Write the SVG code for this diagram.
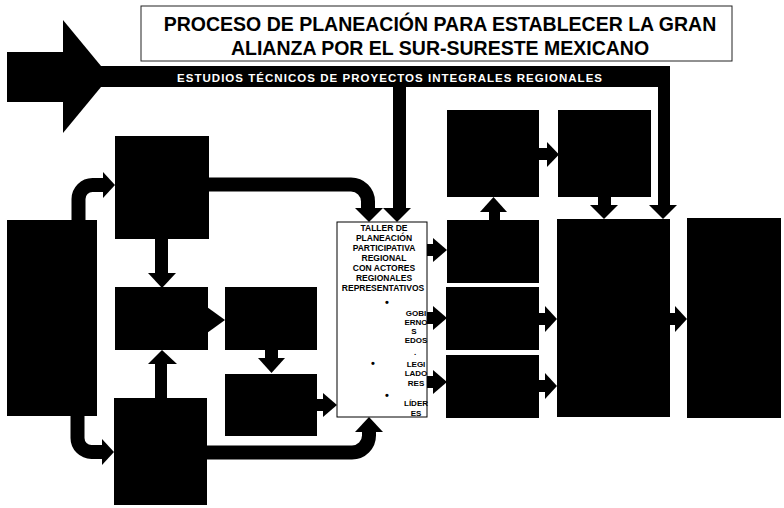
<svg xmlns="http://www.w3.org/2000/svg" width="784" height="508" viewBox="0 0 784 508">
<style>
.blk{fill:#000}
.pipe{fill:none;stroke:#000;stroke-width:14}
.t{font-family:"Liberation Sans",Arial,sans-serif;font-weight:bold}
.tl{font-size:8.5px;text-anchor:middle;fill:#000}
.ts{font-size:8px;text-anchor:middle;fill:#000}
.bu{font-size:11px;text-anchor:middle;fill:#000}
</style>
<rect width="784" height="508" fill="#fff"/>
<g id="title">
<rect x="141" y="6" width="591" height="55" fill="#fff" stroke="#222" stroke-width="1"/>
<text class="t" x="440" y="31" font-size="19.5" text-anchor="middle">PROCESO DE PLANEACIÓN PARA ESTABLECER LA GRAN</text>
<text class="t" x="440" y="55" font-size="19.5" text-anchor="middle">ALIANZA POR EL SUR-SURESTE MEXICANO</text>
</g>
<g id="connectors">
<rect class="blk" x="7" y="52" width="57" height="50"/>
<polygon class="blk" points="63,20 101,66 101,87 63,133"/>
<rect class="blk" x="100" y="66" width="570" height="21"/>
<rect class="blk" x="658" y="66" width="12" height="140"/>
<polygon class="blk" points="649,205 677,205 663,219"/>
<rect class="blk" x="393" y="86" width="13" height="123"/>
<polygon class="blk" points="383,208 411,208 397,222"/>
<text class="t" x="177" y="82" font-size="11.5" fill="#fff" textLength="425" lengthAdjust="spacing">ESTUDIOS TÉCNICOS DE PROYECTOS INTEGRALES REGIONALES</text>
<path class="pipe" stroke-width="13" d="M78.5,221 V199 A14,14 0 0 1 92.5,185 H104"/>
<polygon class="blk" points="103,172 103,198 115,185"/>
<path class="pipe" d="M77.5,415 V438 A14,14 0 0 0 91.5,452 H103"/>
<polygon class="blk" points="102,439 102,465 114,452"/>
<path class="pipe" d="M208,184.5 H351 A17,17 0 0 1 368,201.5 V209"/>
<polygon class="blk" points="355,208 383,208 369,222"/>
<path class="pipe" d="M207,452.5 H352 A17,17 0 0 0 369,435.5 V431"/>
<polygon class="blk" points="355,432 383,432 369,417"/>
<rect class="blk" x="155" y="238" width="13" height="36"/>
<polygon class="blk" points="148,273 176,273 162,288"/>
<rect class="blk" x="155" y="363" width="12" height="36"/>
<polygon class="blk" points="148,364 177,364 162,350"/>
<polygon class="blk" points="207,307 225,320 207,333"/>
<rect class="blk" x="265" y="349" width="13" height="10"/>
<polygon class="blk" points="258,358 285,358 271.5,373"/>
<rect class="blk" x="316" y="399" width="8" height="12"/>
<polygon class="blk" points="323,393 323,417 337,405"/>
<rect class="blk" x="426" y="244" width="8" height="12"/>
<polygon class="blk" points="433,238 433,262 447,250"/>
<rect class="blk" x="426" y="312" width="8" height="12"/>
<polygon class="blk" points="433,306 433,330 447,318"/>
<rect class="blk" x="426" y="376" width="8" height="12"/>
<polygon class="blk" points="433,370 433,394 447,382"/>
<rect class="blk" x="538" y="148" width="10" height="12"/>
<polygon class="blk" points="547,142 547,167 559,154.5"/>
<rect class="blk" x="489" y="211" width="11" height="10"/>
<polygon class="blk" points="480,212 507,212 493.5,197"/>
<rect class="blk" x="598" y="196" width="13" height="10"/>
<polygon class="blk" points="590,205 618,205 604,219"/>
<rect class="blk" x="538" y="313" width="8" height="12"/>
<polygon class="blk" points="545,306 545,332 557,319"/>
<rect class="blk" x="538" y="380" width="8" height="12"/>
<polygon class="blk" points="545,373 545,399 557,386"/>
<rect class="blk" x="669" y="313" width="7" height="12"/>
<polygon class="blk" points="675,306 675,332 687,319"/>
</g>
<g id="n-left"><rect class="blk" x="7" y="220" width="90" height="196"/></g>
<g id="n-box1"><rect class="blk" x="115" y="136" width="94" height="103"/></g>
<g id="n-box2"><rect class="blk" x="115" y="287" width="93" height="63"/></g>
<g id="n-box3"><rect class="blk" x="225" y="287" width="92" height="63"/></g>
<g id="n-box4"><rect class="blk" x="225" y="374" width="92" height="62"/></g>
<g id="n-box5"><rect class="blk" x="114" y="398" width="93" height="107"/></g>
<g id="n-taller">
<rect x="337" y="222" width="90" height="195" fill="#fff" stroke="#000" stroke-width="1"/>
<text class="t tl" x="384" y="231">TALLER DE</text>
<text class="t tl" x="384" y="241">PLANEACIÓN</text>
<text class="t tl" x="384" y="251">PARTICIPATIVA</text>
<text class="t tl" x="384" y="261">REGIONAL</text>
<text class="t tl" x="384" y="271">CON ACTORES</text>
<text class="t tl" x="384" y="281">REGIONALES</text>
<text class="t tl" x="383" y="291">REPRESENTATIVOS</text>
<text class="t bu" x="387" y="306">•</text>
<text class="t ts" x="416" y="316">GOBI</text>
<text class="t ts" x="416" y="325">ERNO</text>
<text class="t ts" x="414" y="334">S</text>
<text class="t ts" x="416" y="343">EDOS</text>
<text class="t ts" x="415" y="355">.</text>
<text class="t bu" x="373" y="367">•</text>
<text class="t ts" x="416" y="367">LEGI</text>
<text class="t ts" x="416" y="376">LADO</text>
<text class="t ts" x="416" y="386">RES</text>
<text class="t bu" x="387" y="399">•</text>
<text class="t ts" x="416" y="406">LÍDER</text>
<text class="t ts" x="416" y="415.5">ES</text>
</g>
<g id="n-a"><rect class="blk" x="447" y="110" width="92" height="87"/></g>
<g id="n-b"><rect class="blk" x="558" y="110" width="93" height="87"/></g>
<g id="n-c"><rect class="blk" x="447" y="220" width="92" height="63"/></g>
<g id="n-d"><rect class="blk" x="446" y="287" width="93" height="63"/></g>
<g id="n-e"><rect class="blk" x="446" y="355" width="93" height="63"/></g>
<g id="n-f"><rect class="blk" x="557" y="219" width="113" height="198"/></g>
<g id="n-g"><rect class="blk" x="687" y="218" width="94" height="200"/></g>
</svg>
